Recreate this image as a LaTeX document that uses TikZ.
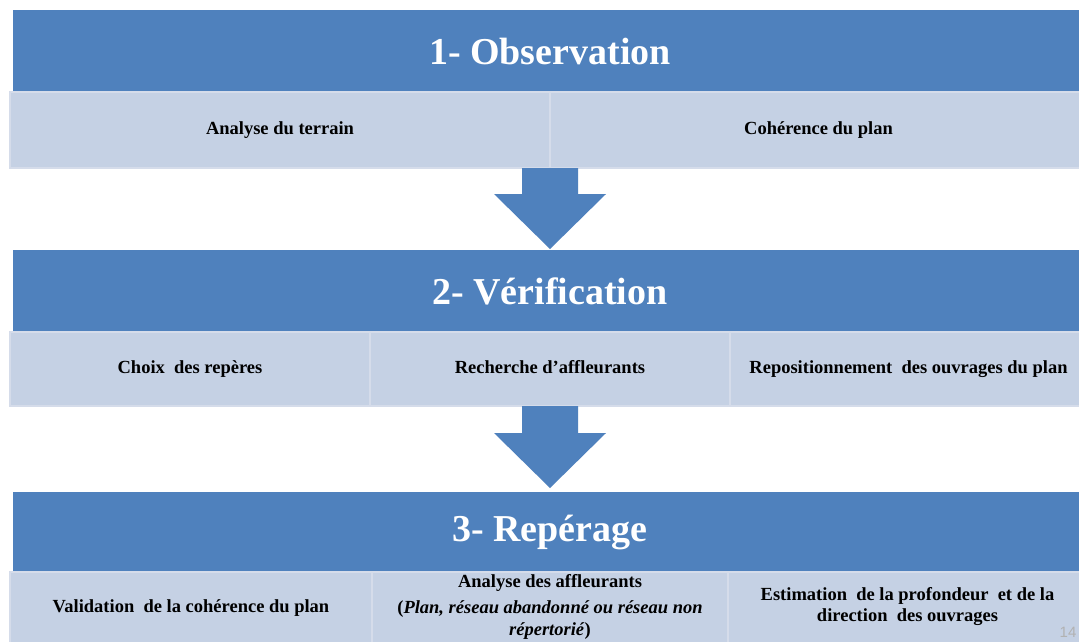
\documentclass[tikz,border=0pt]{standalone}
\usepackage{fontspec}
\setmainfont{Liberation Serif}
\newfontfamily\pagefont{Liberation Sans}
\usetikzlibrary{positioning}
\definecolor{headblue}{HTML}{4F81BD}
\definecolor{cellblue}{HTML}{C5D1E4}
\definecolor{celledge}{HTML}{D5DCEA}

\begin{document}
\begin{tikzpicture}[x=1pt,y=-1pt,
  head/.style={fill=headblue, text=white, font=\fontsize{38}{44}\selectfont\bfseries,
    minimum width=1074pt, inner sep=0pt, outer sep=0pt, anchor=north west},
  cell/.style={fill=cellblue, draw=celledge, line width=2pt, align=center,
    font=\fontsize{18.5}{22}\selectfont\bfseries, inner sep=0pt, outer sep=0pt,
    minimum height=76pt, anchor=north west, execute at begin node=\strut},
  flow/.style={fill=headblue}]
\clip (0,0) rectangle (1079,641);
\fill[white] (0,0) rectangle (1079,641);

\node[head, minimum height=82pt] (obs) at (13,10) {1- Observation};
\node[cell, minimum width=540pt] (terrain) at (10,92) {Analyse du terrain};
\node[cell, minimum width=537pt, right=0pt of terrain] (coherence) {Cohérence du plan};
\fill[flow] (terrain.south east) ++(-28,0) -- ++(56,0) -- ++(0,26) -- ++(28,0)
  -- ++(-56,55) -- ++(-56,-55) -- ++(28,0) -- cycle;

\node[head, minimum height=82pt] (verif) at (13,250) {2- Vérification};
\node[cell, minimum width=360pt, minimum height=74pt] (reperes) at (10,332) {Choix~~des repères};
\node[cell, minimum width=360pt, minimum height=74pt, right=0pt of reperes] (affl) {Recherche d’affleurants};
\node[cell, minimum width=357pt, minimum height=74pt, right=0pt of affl] (repos) {Repositionnement~~des ouvrages du plan};
\fill[flow] (affl.south) ++(-28,0) -- ++(56,0) -- ++(0,27) -- ++(28,0)
  -- ++(-56,55) -- ++(-56,-55) -- ++(28,0) -- cycle;

\node[head, minimum height=80pt] (rep) at (13,492) {3- Repérage};
\node[cell, minimum width=362pt, minimum height=72pt] (valid) at (10,572) {Validation~~de la cohérence du plan};
\node[cell, minimum width=356pt, minimum height=72pt, right=0pt of valid] (anal)
  {Analyse des affleurants\\[4pt](\textit{Plan, réseau abandonné ou réseau non}\\\textit{répertorié})};
\node[cell, minimum width=359pt, minimum height=72pt, right=0pt of anal, font=\fontsize{18.5}{21}\selectfont\bfseries] (estim)
  {Estimation~~de la profondeur~~et de la\\direction~~des ouvrages};

\node[text=gray!60, font=\pagefont\fontsize{15}{18}\selectfont] (page) at (1068,632) {14};
\end{tikzpicture}
\end{document}
